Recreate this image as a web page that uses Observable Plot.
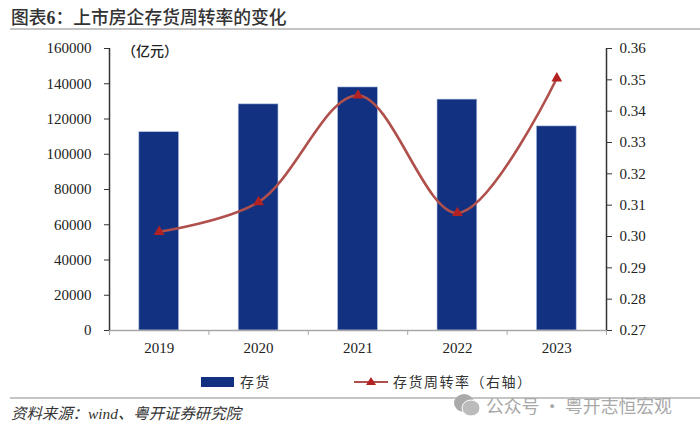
<!DOCTYPE html>
<html><head><meta charset="utf-8">
<script src="https://cdn.jsdelivr.net/npm/d3@7"></script>
<script src="https://cdn.jsdelivr.net/npm/@observablehq/plot@0.6"></script>
<style>
html,body{margin:0;padding:0;background:#fff;width:700px;height:433px;overflow:hidden}
body{position:relative;font-family:"Liberation Serif","Noto Sans CJK SC",serif;color:#222}
.a{position:absolute;white-space:nowrap;line-height:1}
#chart{position:absolute;left:0;top:30px}
svg{display:block}
</style></head><body>
<div class="a" style="left:11px;top:8px;font-size:17.8px;font-weight:500;font-family:'Noto Sans CJK SC',sans-serif;color:#333">图表<span style="font-family:'Liberation Serif';font-weight:700">6</span>：上市房企存货周转率的变化</div>
<div class="a" style="left:10px;top:28px;width:690px;height:1.5px;background:#c4c4c4"></div>
<div id="chart"></div>
<div class="a" style="left:122px;top:43px;font-size:14px;font-weight:500;font-family:'Noto Sans CJK SC'">（亿元）</div>
<div class="a" style="left:201px;top:377px;width:33px;height:10px;background:#123180"></div>
<div class="a" style="left:240px;top:374px;font-size:14px;letter-spacing:1.5px;font-family:'Noto Sans CJK SC';color:#333">存货</div>
<svg class="a" style="left:352px;top:374px" width="38" height="16"><line x1="2" x2="36" y1="8" y2="8" stroke="#b0504c" stroke-width="2"/><path d="M19 3L24 11H14Z" fill="#b22222"/></svg>
<div class="a" style="left:393px;top:374px;font-size:14px;letter-spacing:1.5px;font-family:'Noto Sans CJK SC';color:#333">存货周转率（右轴）</div>
<div class="a" style="left:10px;top:397px;width:690px;height:1.5px;background:#c4c4c4"></div>
<div class="a" style="left:11px;top:406px;font-size:15.4px;font-style:italic;color:#333">资料来源：wind、粤开证券研究院</div>
<svg class="a" style="left:453px;top:392px" width="28" height="26"><ellipse cx="11" cy="11" rx="10" ry="9" fill="#aaa"/><ellipse cx="18" cy="16" rx="9" ry="8" fill="#bbb" stroke="#fff"/></svg>
<div class="a" style="left:486px;top:397px;font-size:17.8px;font-family:'Noto Sans CJK SC';color:#a8a8a8">公众号 · 粤开志恒宏观</div>
<script>
const years = [2019, 2020, 2021, 2022, 2023];
const inventory = [112500, 128300, 137900, 131000, 115800];
const turnover = [0.3015, 0.311, 0.345, 0.3075, 0.3505];
const leftTicks = [0, 20000, 40000, 60000, 80000, 100000, 120000, 140000, 160000];
const rightTicks = [0.27, 0.28, 0.29, 0.30, 0.31, 0.32, 0.33, 0.34, 0.35, 0.36];
const bandEdges = [2018.5, 2019.5, 2020.5, 2021.5, 2022.5, 2023.5];

const toLeft = d3.scaleLinear([0.27, 0.36], [0, 160000]);
const bars = years.map((year, i) => ({year, value: inventory[i]}));
const rates = years.map((year, i) => ({year, rate: toLeft(turnover[i])}));
const halfBar = 0.2;

const plot = Plot.plot({
  width: 700, height: 335,
  marginLeft: 109, marginRight: 94, marginTop: 18, marginBottom: 35,
  style: {fontFamily: "'Liberation Serif',serif", fontSize: "15px", color: "#222", background: "transparent"},
  x: {domain: [2018.5, 2023.5]},
  y: {domain: [0, 160000]},
  marks: [
    Plot.rectY(bars, {x1: d => d.year - halfBar, x2: d => d.year + halfBar, y1: 0, y2: "value", fill: "#123180", stroke: "#a9bde0", strokeWidth: 0.6}),
    Plot.ruleY([0], {stroke: "#a8a8a8", strokeWidth: 1.5}),
    Plot.ruleX([2018.5], {y1: 0, y2: 160000, stroke: "#333", strokeWidth: 1.5}),
    Plot.ruleX([2023.5], {y1: 0, y2: 160000, stroke: "#333", strokeWidth: 1.5}),
    Plot.axisX({ticks: bandEdges, tickSize: 5, stroke: "#a8a8a8", tickFormat: () => "", label: null}),
    Plot.axisX({ticks: years, tickSize: 0, tickPadding: 12, tickFormat: "d", label: null, fill: "#222"}),
    Plot.axisY({anchor: "left", ticks: leftTicks, tickSize: 5, tickPadding: 13, stroke: "#333", tickFormat: "d", label: null, fill: "#222"}),
    Plot.axisY({anchor: "right", ticks: rightTicks.map(r => toLeft(r)), tickSize: 5, tickPadding: 8, stroke: "#333", tickFormat: v => toLeft.invert(v).toFixed(2), label: null, fill: "#222"}),
    Plot.line(rates, {x: "year", y: "rate", curve: "catmull-rom", stroke: "#b0504c", strokeWidth: 2.6}),
    Plot.dot(rates, {x: "year", y: "rate", symbol: "triangle", r: 4, fill: "#b22222"})
  ]
});
document.getElementById("chart").appendChild(plot);
</script>
</body></html>
